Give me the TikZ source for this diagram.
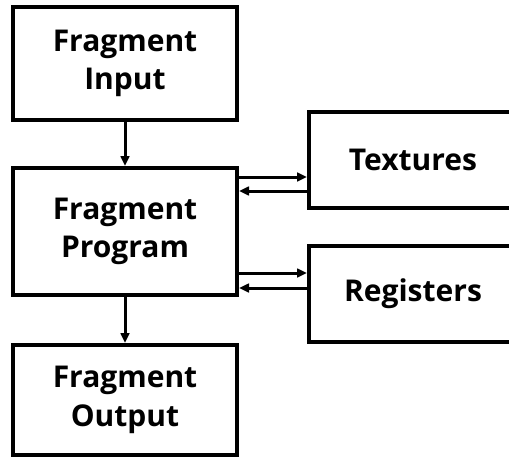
\documentclass[tikz,border=0pt]{standalone}
\usepackage{fontspec}
\setmainfont{Open Sans}
\usetikzlibrary{arrows.meta}
\begin{document}
\begin{tikzpicture}[x=0.75pt,y=-0.75pt,
  block/.style={draw=black, line width=3pt, fill=white, align=center,
    font=\fontsize{22.5}{29}\selectfont\bfseries, inner sep=0pt},
  leftblock/.style={block, minimum width=168pt},
  sideblock/.style={block, minimum width=156pt, minimum height=72pt},
  arr/.style={line width=2.25pt, -{Triangle[length=7.5pt,width=6.5pt]}}]
  \useasboundingbox (0,0) rectangle (509,456);
  \clip (0,0) rectangle (509,456);

  % pipeline stages
  \node[leftblock, minimum height=84.75pt] (in)   at (125,63.5) {Fragment\\Input};
  \node[leftblock, minimum height=95.25pt] (prog) at (125,231.5) {Fragment\\Program};
  \node[leftblock, minimum height=82.5pt]  (out)  at (125,400) {Fragment\\Output};

  % resources read/written by the program
  \node[sideblock] (tex) at (413,160) {Textures};
  \node[sideblock] (reg) at (413,294) {Registers};

  % vertical flow
  \draw[arr] (in.south) -- (prog.north);
  \draw[arr] (prog.south) -- (out.north);

  % two-way links
  \draw[arr] (prog.east |- 0,177) -- (tex.west |- 0,177);
  \draw[arr] (tex.west |- 0,191) -- (prog.east |- 0,191);
  \draw[arr] (prog.east |- 0,273) -- (reg.west |- 0,273);
  \draw[arr] (reg.west |- 0,288) -- (prog.east |- 0,288);
\end{tikzpicture}
\end{document}
